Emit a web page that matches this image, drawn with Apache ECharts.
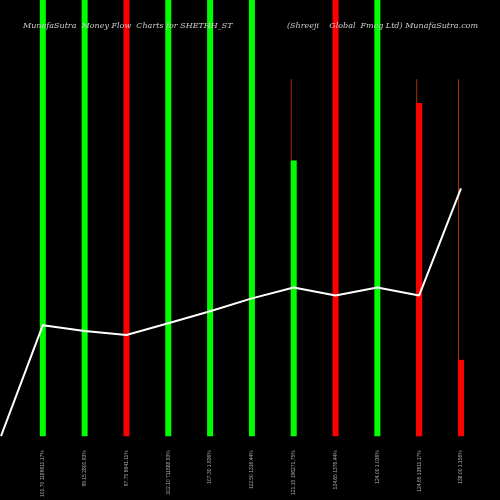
<!DOCTYPE html><html><head><meta charset="utf-8"><script src="https://cdn.jsdelivr.net/npm/echarts@6/dist/echarts.min.js"></script></head><body style="margin:0;background:#000"><div id="c" style="width:500px;height:500px"></div><script>
const categories=["","101.70 1186611.17%","99.15 2800.93%","97.75 6641.11%","102.10 711688.93%","107.30 1.836%","112.50 1316.44%","121.15 196271.75%","124.65 1376.44%","124.00 1.036%","124.65 13611.17%","138.00 1.156%"];
const barValues=[null,460,460,460,460,460,460,278,460,460,336,77];
const barColors=["","#00ff00","#00ff00","#ff0000","#00ff00","#00ff00","#00ff00","#00ff00","#ff0000","#00ff00","#ff0000","#ff0000"];
const wickValues=[null,null,null,null,null,null,null,360,null,null,360,360];
const lineValues=[0,112,106,102,114,126,139,150,142,150,142,250];
const ch=echarts.init(document.getElementById('c'));
ch.setOption({backgroundColor:'#000',animation:false,
title:[{text:'MunafaSutra  Money Flow  Charts for SHETHH_ST',left:18,top:17,textStyle:{color:'#ccc',fontFamily:'DejaVu Serif',fontStyle:'italic',fontWeight:'normal',fontSize:8}},
{text:'(Shreeji    Global  Fmcg Ltd) MunafaSutra.com',left:282,top:17,textStyle:{color:'#ccc',fontFamily:'DejaVu Serif',fontStyle:'italic',fontWeight:'normal',fontSize:8}}],
grid:{left:1,right:39,top:0,bottom:60},
xAxis:{type:'category',data:categories,boundaryGap:false,axisLine:{show:false},axisTick:{show:false},axisLabel:{rotate:90,color:'#aaa',fontSize:5,margin:14,interval:0}},
yAxis:{type:'value',min:0,max:440,show:false,splitLine:{show:false}},
series:[
{type:'bar',data:wickValues,barWidth:1,itemStyle:{color:'#b03000'},z:1},
{type:'bar',data:barValues.map((v,i)=>v==null?null:{value:v,itemStyle:{color:barColors[i]}}),barWidth:6,barGap:'-100%',z:2},
{type:'line',data:lineValues,symbol:'none',lineStyle:{color:'#fff',width:2},z:3}
]});
</script></body></html>
